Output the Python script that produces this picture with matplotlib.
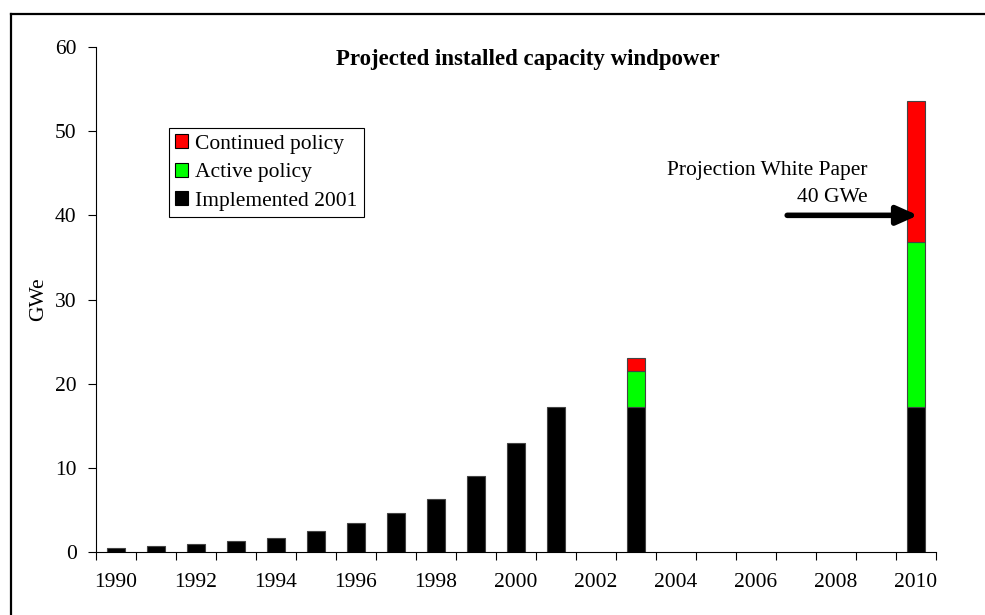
import matplotlib
matplotlib.use('Agg')
import matplotlib.pyplot as plt
from matplotlib.lines import Line2D
from matplotlib.patches import Patch
import numpy as np

plt.rcParams['font.family'] = ['Liberation Serif', 'DejaVu Serif']

# category axis runs 1990..2010, only some years carry bars
years = list(range(1990, 2011))
bar_years = [1990, 1991, 1992, 1993, 1994, 1995, 1996, 1997, 1998, 1999, 2000, 2001, 2003, 2010]
implemented = [0.48, 0.67, 0.95, 1.27, 1.66, 2.5, 3.4, 4.6, 6.3, 9.0, 12.9, 17.2, 17.2, 17.2]
active = [0, 0, 0, 0, 0, 0, 0, 0, 0, 0, 0, 0, 4.3, 19.6]
continued = [0, 0, 0, 0, 0, 0, 0, 0, 0, 0, 0, 0, 1.5, 16.8]
white_paper = 40
tick_years = [1990, 1992, 1994, 1996, 1998, 2000, 2002, 2004, 2006, 2008, 2010]

fs = 15.5

fig = plt.figure(figsize=(9.85, 6.15), dpi=100)
ax = fig.add_axes([96/985, 1-552/615, 840/985, 505/615])

pos = np.array([years.index(y) for y in bar_years])
impl = np.array(implemented)
act = np.array(active)
cont = np.array(continued)
w = 0.43
ax.bar(pos, impl, w, color='black', edgecolor='#444444', linewidth=0.8)
m = act > 0
ax.bar(pos[m], act[m], w, bottom=impl[m], color='#00ff00', edgecolor='#444444', linewidth=0.8)
m = cont > 0
ax.bar(pos[m], cont[m], w, bottom=(impl + act)[m], color='#ff0000', edgecolor='#444444', linewidth=0.8)

ax.set_xlim(-0.5, len(years) - 0.5)
ax.set_ylim(0, 60)
ax.set_yticks(range(0, 61, 10))
ax.set_xticks([years.index(y) for y in tick_years])
ax.set_xticklabels([str(y) for y in tick_years])
ax.set_xticks(np.arange(-0.5, len(years)), minor=True)
ax.tick_params(axis='x', which='major', length=0, pad=15, labelsize=fs)
ax.tick_params(axis='x', which='minor', length=6, width=0.8, direction='out')
ax.tick_params(axis='y', length=6, width=0.8, direction='out', pad=8, labelsize=fs)
for s in ['top', 'right']:
    ax.spines[s].set_visible(False)
for s in ['left', 'bottom']:
    ax.spines[s].set_linewidth(0.8)
ax.set_ylabel('GWe', fontsize=fs, labelpad=5)

fig.text(528/985, 1-60/615, 'Projected installed capacity windpower',
         ha='center', va='center', fontsize=16.5, fontweight='bold')

handles = [Patch(facecolor='#ff0000', edgecolor='black', linewidth=0.8),
           Patch(facecolor='#00ff00', edgecolor='black', linewidth=0.8),
           Patch(facecolor='black', edgecolor='black', linewidth=0.8)]
leg = ax.legend(handles, ['Continued policy', 'Active policy', 'Implemented 2001'],
                loc='upper left', bbox_to_anchor=((169-96)/840, (552-128)/505),
                fontsize=fs, frameon=True, fancybox=False, framealpha=1,
                edgecolor='black', handlelength=0.6, handleheight=0.6,
                handletextpad=0.3, borderpad=0.3, labelspacing=0.42,
                borderaxespad=0)
leg.get_frame().set_linewidth(0.8)

x10 = years.index(2010)
ax.text(x10 - 1.22, 45.3, 'Projection White Paper', ha='right', va='center', fontsize=fs)
ax.text(x10 - 1.22, 42.1, '40 GWe', ha='right', va='center', fontsize=fs)
ax.annotate('', xy=(x10 + 0.05, white_paper), xytext=(x10 - 3.22, white_paper),
            arrowprops=dict(arrowstyle='-|>,head_length=0.9,head_width=0.4',
                            lw=4, color='black', shrinkA=0, shrinkB=0,
                            mutation_scale=14))

# outer frame of the chart area
fig.add_artist(Line2D([11/985, 11/985], [0, 1-14/615], transform=fig.transFigure,
                      color='black', lw=1.6))
fig.add_artist(Line2D([11/985, 1], [1-14/615, 1-14/615], transform=fig.transFigure,
                      color='black', lw=1.6))

fig.savefig('out.png', dpi=100)
